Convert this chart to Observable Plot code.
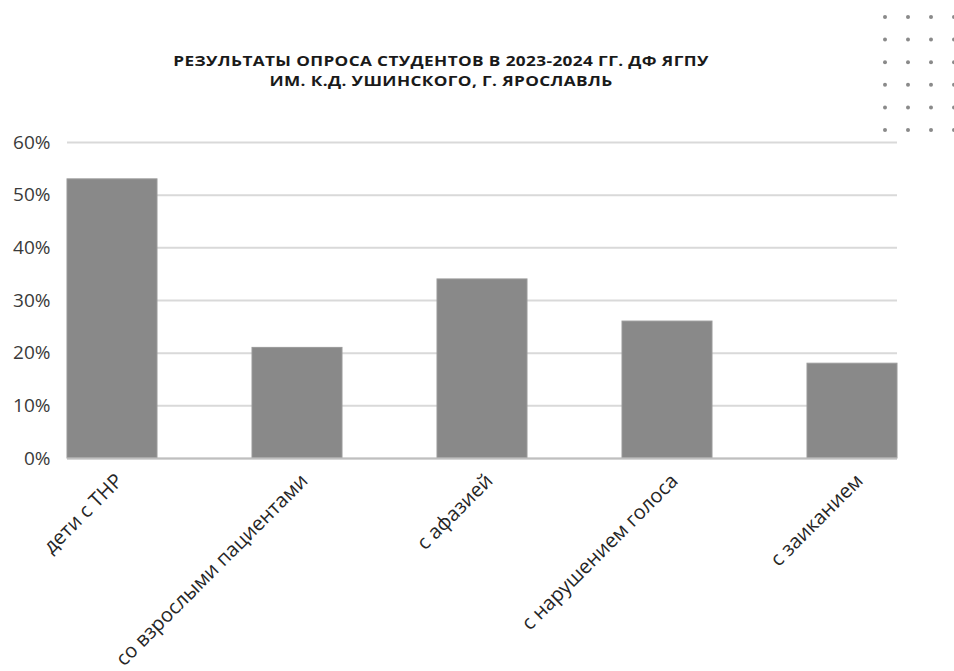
<!DOCTYPE html>
<html lang="ru">
<head>
<meta charset="utf-8">
<script src="https://cdn.jsdelivr.net/npm/d3@7"></script>
<script src="https://cdn.jsdelivr.net/npm/@observablehq/plot@0.6"></script>
<style>
  html, body { margin: 0; padding: 0; background: #fff; }
  #wrap { position: relative; width: 954px; height: 671px; overflow: hidden; font-family: "Open Sans", "Noto Sans", sans-serif; }
  .title-line {
    position: absolute; left: 0; width: 882px;
    text-align: center; font-weight: 700; font-size: 14px; line-height: 15px;
    color: #1a1a1a; letter-spacing: 0.3px;
    transform: scaleX(1.23); transform-origin: 441px 0;
  }
  #t1 { top: 53px; }
  #t2 { top: 72.5px; }
  #dots { position: absolute; left: 0; top: 0; }
  #chart { position: absolute; left: 0; top: 0; }
</style>
</head>
<body>
<div id="wrap">
  <div id="chart"></div>
  <div class="title-line" id="t1">РЕЗУЛЬТАТЫ ОПРОСА СТУДЕНТОВ В 2023-2024 ГГ. ДФ ЯГПУ</div>
  <div class="title-line" id="t2">ИМ. К.Д. УШИНСКОГО, Г. ЯРОСЛАВЛЬ</div>
  <svg id="dots" width="954" height="160"></svg>
</div>
<script>
// Survey categories and the share of students choosing each
const categories = [
  "дети с ТНР",
  "со взрослыми пациентами",
  "с афазией",
  "с нарушением голоса",
  "с заиканием"
];
const shares = [0.53, 0.21, 0.34, 0.26, 0.18];
const yTicks = [0, 0.1, 0.2, 0.3, 0.4, 0.5, 0.6];

const data = categories.map((c, i) => ({category: c, share: shares[i]}));

const chart = Plot.plot({
  width: 954,
  height: 671,
  marginLeft: 67,
  marginRight: 57,
  marginTop: 142,
  marginBottom: 213,
  style: {fontFamily: "'Open Sans', 'Noto Sans', sans-serif", background: "transparent"},
  x: {domain: categories, paddingInner: 0.514, paddingOuter: 0, label: null},
  y: {domain: [0, 0.6], label: null},
  marks: [
    Plot.gridY(yTicks, {stroke: "#d9d9d9", strokeOpacity: 1, strokeWidth: 2}),
    Plot.barY(data, {x: "category", y: "share", fill: "#898989", stroke: "#9a9a9a", strokeWidth: 1}),
    Plot.ruleY([0], {stroke: "#bfbfbf", strokeWidth: 2}),
    Plot.axisY(yTicks, {
      tickSize: 0, tickPadding: 17, fontSize: 19, fill: "#3a3a3a",
      tickFormat: d3.format(".0%")
    }),
    Plot.axisX({
      tickSize: 0, tickRotate: -45, tickPadding: 19, fontSize: 20, fill: "#262626",
      dx: 7
    })
  ]
});
document.getElementById("chart").appendChild(chart);

// Decorative dot grid in the upper right corner
const dots = d3.select("#dots");
for (let r = 0; r < 6; r++) {
  for (let c = 0; c < 4; c++) {
    dots.append("circle")
      .attr("cx", 885 + c * 23)
      .attr("cy", 17 + r * 22.6)
      .attr("r", 2)
      .attr("fill", "#8a8a8a");
  }
}
</script>
</body>
</html>
